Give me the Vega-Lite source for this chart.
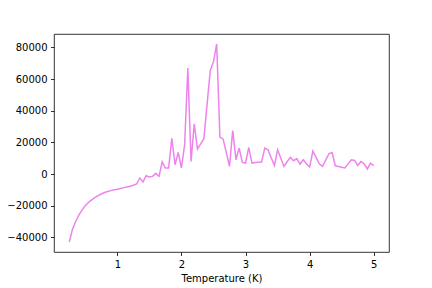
{
  "$schema": "https://vega.github.io/schema/vega-lite/v6.json",
  "width": 335,
  "height": 218,
  "autosize": {"type": "none"},
  "padding": {"left": 54, "top": 34, "right": 43, "bottom": 36},
  "background": "white",
  "config": {
    "font": "DejaVu Sans",
    "view": {"stroke": "black", "strokeWidth": 0.8},
    "axis": {
      "grid": false,
      "domain": false,
      "tickColor": "black",
      "tickWidth": 0.8,
      "tickSize": 3.5,
      "labelColor": "black",
      "labelFontSize": 10,
      "labelPadding": 3.5,
      "labelFont": "DejaVu Sans",
      "titleFont": "DejaVu Sans",
      "titleFontSize": 10,
      "titleFontWeight": "normal",
      "titleColor": "black"
    }
  },
  "data": {
    "values": [
      {"T": 0.25, "v": -43000}, {"T": 0.30, "v": -35000}, {"T": 0.35, "v": -30000}, {"T": 0.40, "v": -26000},
      {"T": 0.45, "v": -22800}, {"T": 0.50, "v": -20000}, {"T": 0.55, "v": -18000}, {"T": 0.60, "v": -16300},
      {"T": 0.65, "v": -14900}, {"T": 0.70, "v": -13700}, {"T": 0.75, "v": -12600}, {"T": 0.80, "v": -11700},
      {"T": 0.85, "v": -11000}, {"T": 0.90, "v": -10500}, {"T": 0.95, "v": -10000}, {"T": 1.00, "v": -9600},
      {"T": 1.05, "v": -9100}, {"T": 1.10, "v": -8600}, {"T": 1.15, "v": -8200}, {"T": 1.20, "v": -7700},
      {"T": 1.25, "v": -7100}, {"T": 1.30, "v": -6300}, {"T": 1.35, "v": -2500}, {"T": 1.40, "v": -5000},
      {"T": 1.45, "v": -1100}, {"T": 1.50, "v": -1900}, {"T": 1.55, "v": -1500}, {"T": 1.60, "v": 400},
      {"T": 1.65, "v": -1500}, {"T": 1.70, "v": 7600}, {"T": 1.75, "v": 3800}, {"T": 1.80, "v": 3800},
      {"T": 1.85, "v": 22500}, {"T": 1.90, "v": 5900}, {"T": 1.95, "v": 13600}, {"T": 2.00, "v": 3800},
      {"T": 2.05, "v": 18500}, {"T": 2.10, "v": 66900}, {"T": 2.15, "v": 8000}, {"T": 2.20, "v": 31700},
      {"T": 2.25, "v": 15800}, {"T": 2.30, "v": 19000}, {"T": 2.35, "v": 22300}, {"T": 2.40, "v": 44000},
      {"T": 2.45, "v": 65400}, {"T": 2.50, "v": 71000}, {"T": 2.55, "v": 82200}, {"T": 2.60, "v": 23300},
      {"T": 2.65, "v": 22000}, {"T": 2.70, "v": 13500}, {"T": 2.75, "v": 4800}, {"T": 2.80, "v": 27500},
      {"T": 2.85, "v": 9000}, {"T": 2.90, "v": 16400}, {"T": 2.95, "v": 7300}, {"T": 3.00, "v": 6900},
      {"T": 3.05, "v": 16800}, {"T": 3.10, "v": 6900}, {"T": 3.15, "v": 7300}, {"T": 3.20, "v": 7500},
      {"T": 3.25, "v": 7600}, {"T": 3.30, "v": 16400}, {"T": 3.35, "v": 15300}, {"T": 3.40, "v": 10300},
      {"T": 3.45, "v": 5400}, {"T": 3.50, "v": 15300}, {"T": 3.55, "v": 10000}, {"T": 3.60, "v": 4800},
      {"T": 3.65, "v": 7900}, {"T": 3.70, "v": 10500}, {"T": 3.75, "v": 8400}, {"T": 3.80, "v": 9700},
      {"T": 3.85, "v": 6300}, {"T": 3.90, "v": 9000}, {"T": 3.95, "v": 6500}, {"T": 4.00, "v": 4400},
      {"T": 4.05, "v": 14500}, {"T": 4.10, "v": 10500}, {"T": 4.15, "v": 6500}, {"T": 4.20, "v": 4800},
      {"T": 4.25, "v": 8800}, {"T": 4.30, "v": 12800}, {"T": 4.35, "v": 13600}, {"T": 4.40, "v": 5200},
      {"T": 4.45, "v": 4700}, {"T": 4.50, "v": 4300}, {"T": 4.55, "v": 3800}, {"T": 4.60, "v": 6400},
      {"T": 4.65, "v": 9000}, {"T": 4.70, "v": 8600}, {"T": 4.75, "v": 5400}, {"T": 4.80, "v": 7900},
      {"T": 4.85, "v": 6500}, {"T": 4.90, "v": 3200}, {"T": 4.95, "v": 6900}, {"T": 5.00, "v": 5200}
    ]
  },
  "mark": {"type": "line", "color": "violet", "strokeWidth": 1.5, "clip": true},
  "encoding": {
    "x": {
      "field": "T",
      "type": "quantitative",
      "scale": {"domain": [0.0125, 5.2375], "nice": false, "zero": false},
      "axis": {"values": [1, 2, 3, 4, 5], "format": "d", "title": "Temperature (K)", "titlePadding": 4}
    },
    "y": {
      "field": "v",
      "type": "quantitative",
      "scale": {"domain": [-49260, 88460], "nice": false, "zero": false},
      "axis": {"values": [-40000, -20000, 0, 20000, 40000, 60000, 80000], "format": "d", "title": null}
    }
  }
}
